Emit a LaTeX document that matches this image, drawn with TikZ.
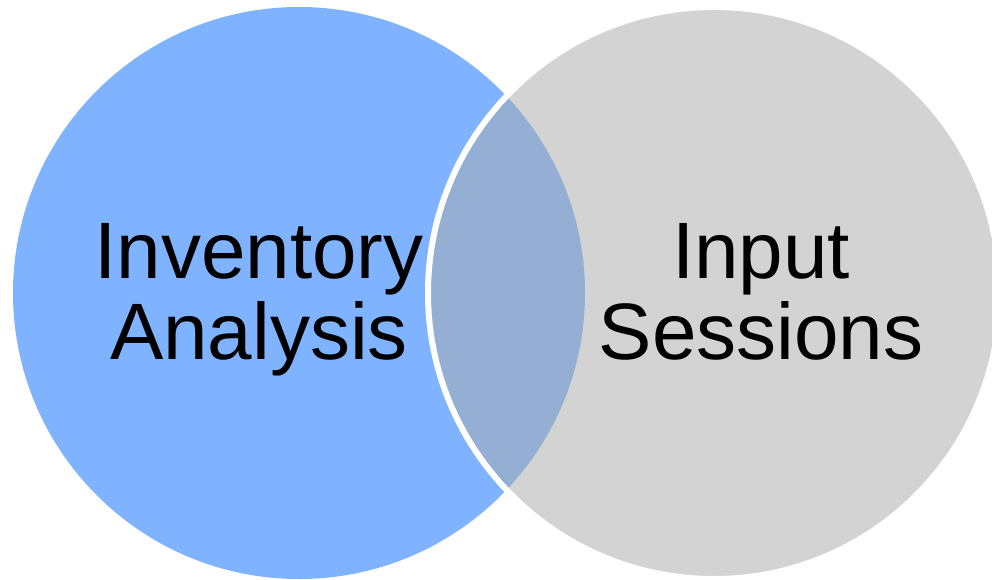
\documentclass[tikz,border=0pt]{standalone}
\usepackage{fontspec}
\setmainfont{Liberation Sans}
\usetikzlibrary{positioning}
\definecolor{setblue}{HTML}{80B3FF}
\definecolor{setgrey}{HTML}{D3D3D3}
\definecolor{setmix}{HTML}{94AED4}
\begin{document}
\begin{tikzpicture}[x=1pt,y=-1pt,font=\fontsize{80}{81}\selectfont]
\tikzstyle{set}=[circle,minimum size=572pt,inner sep=0pt]
\tikzstyle{lbl}=[align=center,inner sep=0pt,anchor=base]
\useasboundingbox (0,0) rectangle (992,580);
\node[set,fill=setblue] (inv) at (299,293) {};
\node[set,fill=setgrey] (inp) at (714,293) {};
% overlap of the two sets
\begin{scope}
\clip (inv.center) circle (286pt);
\fill[setmix] (inp.center) circle (286pt);
\end{scope}
\node[set,draw=white,line width=6pt] (rim) at (inp) {};
\node[lbl] (invlbl) at (259,359) {Inventory\\Analysis};
\node[lbl] (inplbl) at (761,359) {Input\\Sessions};
\end{tikzpicture}
\end{document}
